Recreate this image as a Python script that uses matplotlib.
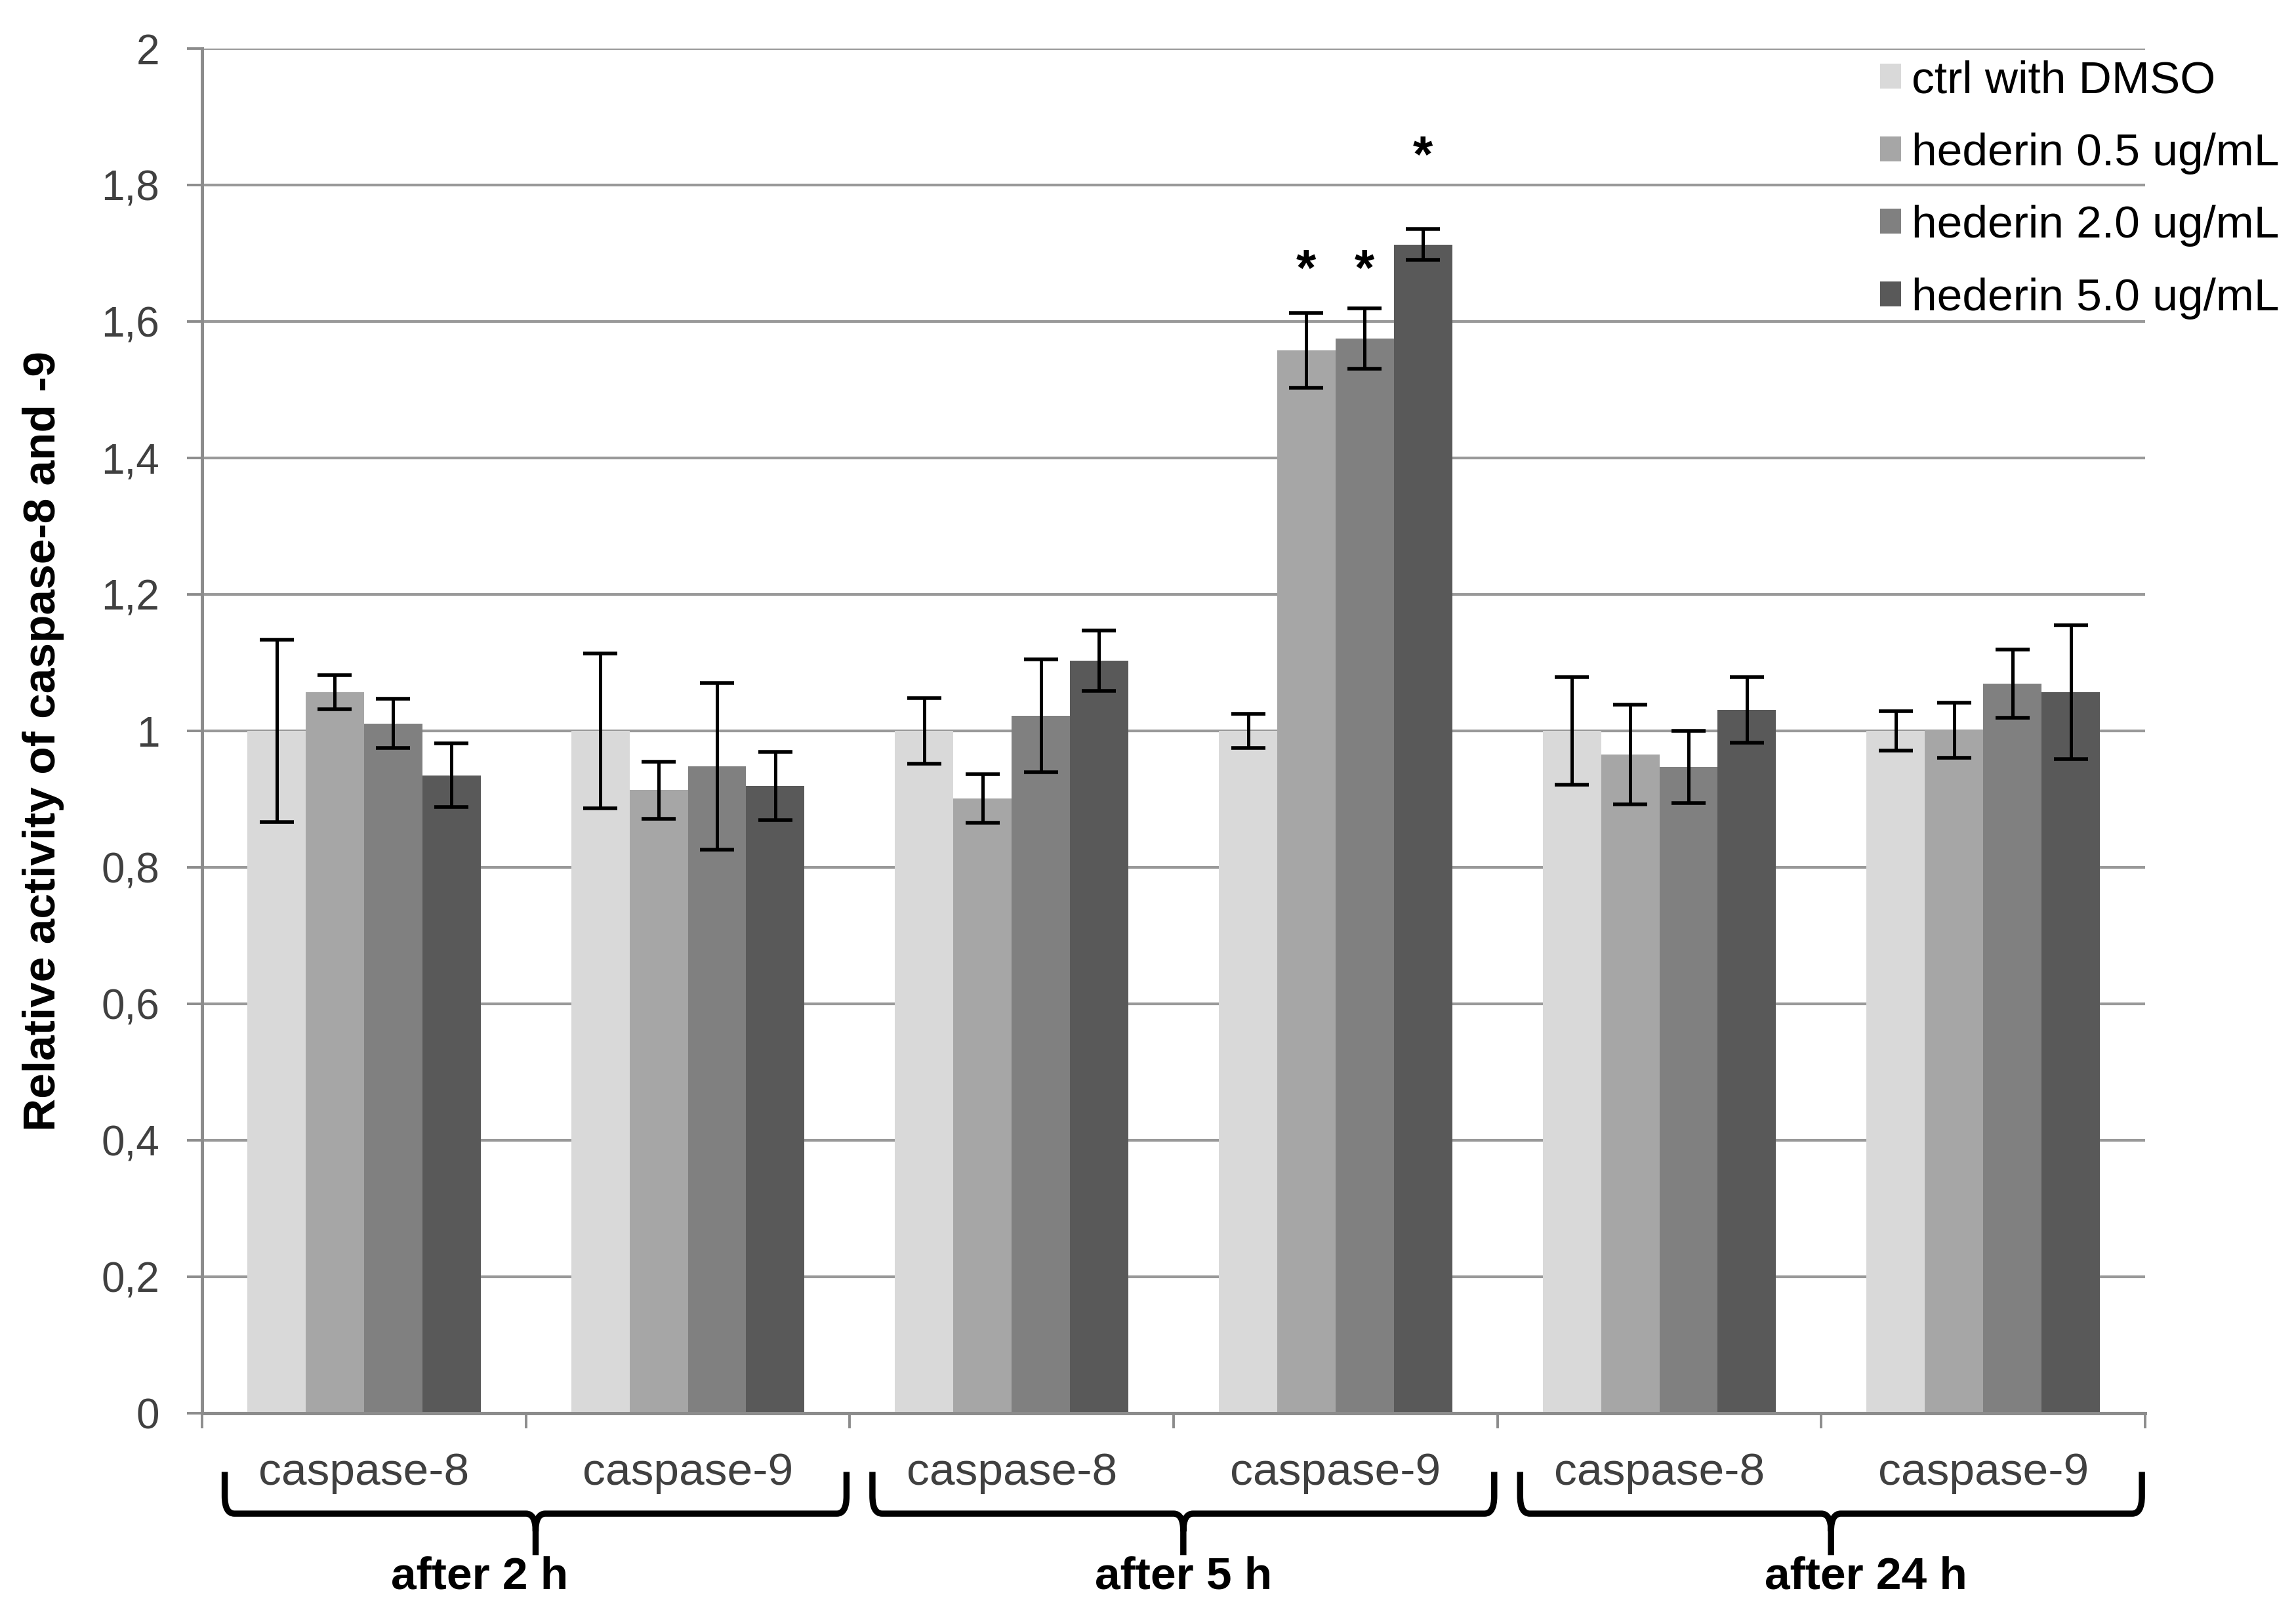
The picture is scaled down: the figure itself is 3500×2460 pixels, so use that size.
import numpy as np
import matplotlib.pyplot as plt
from matplotlib.path import Path
from matplotlib.patches import PathPatch

plt.rcParams['font.family'] = ['Liberation Sans', 'DejaVu Sans']

# data
time_groups = ['after 2 h', 'after 5 h', 'after 24 h']
targets = ['caspase-8', 'caspase-9', 'caspase-8', 'caspase-9', 'caspase-8', 'caspase-9']
series_names = ['ctrl with DMSO', 'hederin 0.5 ug/mL', 'hederin 2.0 ug/mL', 'hederin 5.0 ug/mL']
colors = ['#d9d9d9', '#a6a6a6', '#808080', '#595959']

ctrl = [1.0, 1.0, 1.0, 1.0, 1.0, 1.0]
ctrl_err = [0.134, 0.113, 0.048, 0.025, 0.079, 0.029]
hed05 = [1.057, 0.913, 0.901, 1.558, 0.965, 1.001]
hed05_err = [0.025, 0.042, 0.036, 0.055, 0.073, 0.040]
hed20 = [1.011, 0.948, 1.022, 1.575, 0.947, 1.069]
hed20_err = [0.036, 0.122, 0.083, 0.044, 0.053, 0.050]
hed50 = [0.935, 0.919, 1.103, 1.713, 1.031, 1.057]
hed50_err = [0.047, 0.050, 0.044, 0.023, 0.048, 0.098]

# significant bars: category index, series index, height of the asterisk
sig_cat = [3, 3, 3]
sig_series = [1, 2, 3]
sig_height = [1.686, 1.686, 1.852]

values = [ctrl, hed05, hed20, hed50]
errors = [ctrl_err, hed05_err, hed20_err, hed50_err]

fig = plt.figure(figsize=(17.5, 12.3), dpi=200)
ax = fig.add_axes([0.088, 0.1244, 0.8463, 0.8455])

x = np.arange(len(targets))
width = 0.18
for i in range(4):
    ax.bar(x + (i - 1.5) * width, values[i], width, color=colors[i],
           label=series_names[i], zorder=2)
    ax.errorbar(x + (i - 1.5) * width, values[i], yerr=errors[i], fmt='none',
                ecolor='black', elinewidth=1.8, capsize=9.5, capthick=2.0, zorder=3)

# asterisks (baseline sits a bit below the glyph centre)
for cat, s, h in zip(sig_cat, sig_series, sig_height):
    ax.text(cat + (s - 1.5) * width, h - 0.033, '*', ha='center', va='baseline',
            fontsize=28, fontweight='bold', color='black')

ax.set_xlim(-0.5, len(targets) - 0.5)
ax.set_ylim(0, 2)
yt = np.arange(0, 2.01, 0.2)
ax.set_yticks(yt)
ax.set_yticklabels([('%g' % round(v, 1)).replace('.', ',') for v in yt])
ax.tick_params(axis='y', direction='out', length=8.3, width=1.4, color='#8c8c8c',
               pad=15, labelsize=23, labelcolor='#404040')
ax.yaxis.grid(True, color='#999999', linewidth=1.5, zorder=0)
ax.set_axisbelow(True)

# category boundaries as ticks, labels drawn as text
ax.set_xticks(np.arange(-0.5, len(targets), 1.0))
ax.set_xticklabels([])
ax.tick_params(axis='x', direction='out', length=8.3, width=1.4, color='#8c8c8c')

for side in ['top', 'right']:
    ax.spines[side].set_visible(False)
for side in ['left', 'bottom']:
    ax.spines[side].set_color('#8c8c8c')
    ax.spines[side].set_linewidth(1.8)

trans = ax.get_xaxis_transform()
for i, name in enumerate(targets):
    ax.text(i, -0.0524, name, transform=trans, ha='center', va='baseline',
            fontsize=25, color='#404040')

# braces under each pair of categories
yt_b, yh_b, yb_b = -0.043, -0.0736, -0.104
rx, ry = 0.03, 0.013
label_shift = [-0.174, 0.0, 0.107]
for g, name in enumerate(time_groups):
    xl = 2 * g - 0.43
    xr = 2 * g + 1.49
    xm = (xl + xr) / 2
    verts = [(xl, yt_b), (xl, yh_b + ry), (xl, yh_b), (xl + rx, yh_b),
             (xm - rx, yh_b), (xm, yh_b), (xm, yh_b - ry), (xm, yb_b),
             (xm, yh_b - ry), (xm, yh_b), (xm + rx, yh_b),
             (xr - rx, yh_b), (xr, yh_b), (xr, yh_b + ry), (xr, yt_b)]
    codes = [Path.MOVETO, Path.LINETO, Path.CURVE3, Path.CURVE3,
             Path.LINETO, Path.CURVE3, Path.CURVE3, Path.LINETO,
             Path.MOVETO, Path.CURVE3, Path.CURVE3,
             Path.LINETO, Path.CURVE3, Path.CURVE3, Path.LINETO]
    brace = PathPatch(Path(verts, codes), transform=trans, facecolor='none',
                      edgecolor='black', linewidth=3.4, clip_on=False,
                      capstyle='butt', joinstyle='miter')
    ax.add_patch(brace)
    ax.text(xm + label_shift[g], -0.1288, name, transform=trans, ha='center',
            va='baseline', fontsize=25, fontweight='bold', color='black')

fig.text(0.019, 1 - 1129 / 2460, 'Relative activity of caspase-8 and -9',
         rotation=90, ha='center', va='center', fontsize=25, fontweight='bold')

ax.legend(loc='upper left', bbox_to_anchor=(0.8189, 0.963),
          bbox_transform=fig.transFigure, frameon=False, fontsize=25,
          handlelength=0.46, handleheight=0.46, handletextpad=0.23,
          labelspacing=0.67, borderpad=0, borderaxespad=0)

fig.savefig('out.png', dpi=200, facecolor='white')
